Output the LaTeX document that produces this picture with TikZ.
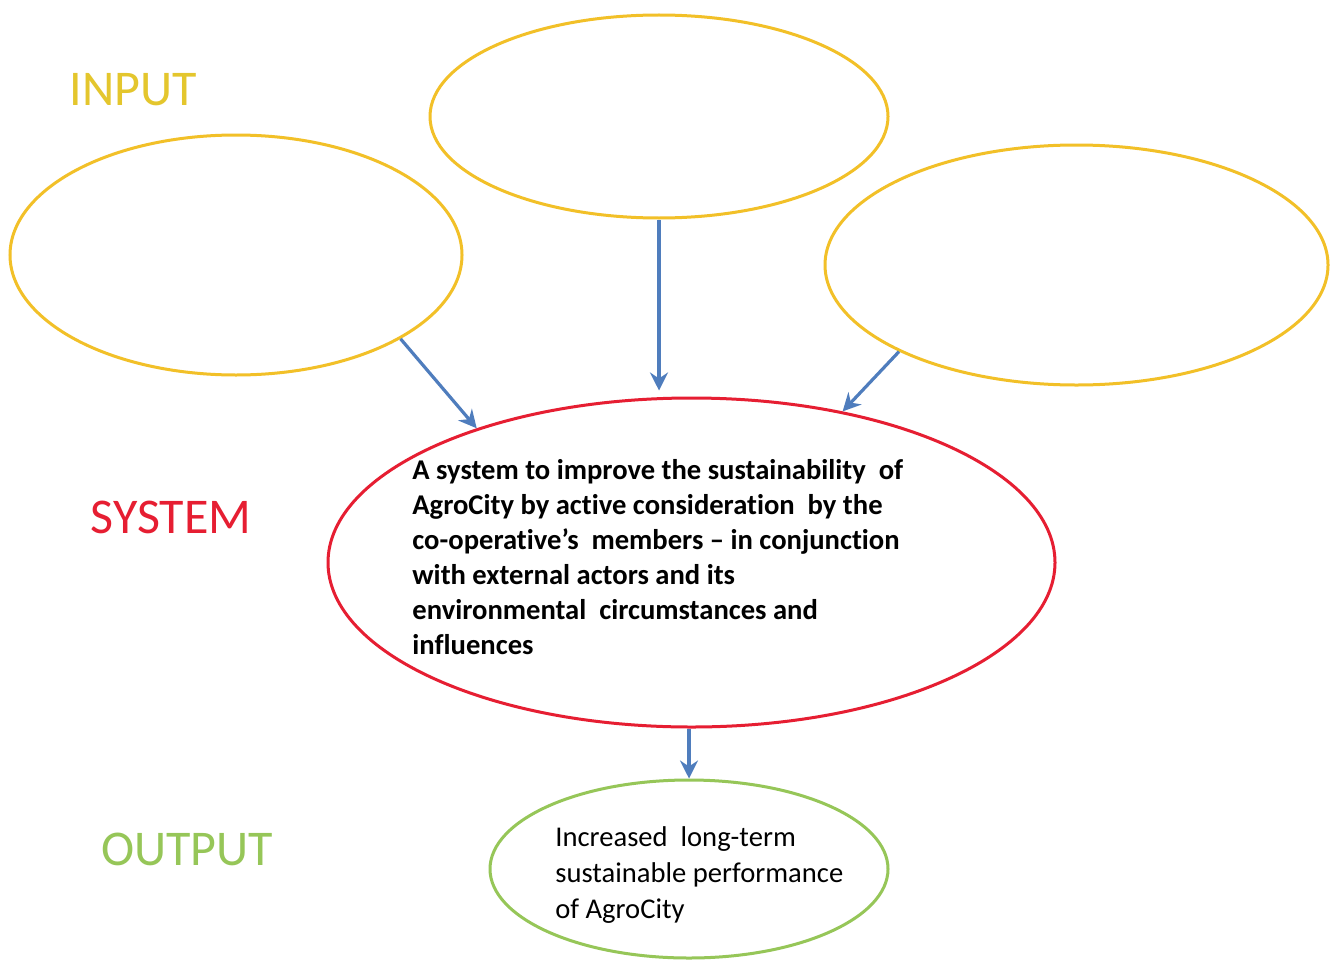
\documentclass[tikz,border=0pt]{standalone}
\usepackage{fontspec}
\setmainfont[Ligatures={NoCommon}]{Carlito}
\usetikzlibrary{shapes.geometric,arrows.meta}
\definecolor{inyel}{RGB}{242,192,40}
\definecolor{intxt}{RGB}{228,198,45}
\definecolor{sysred}{RGB}{230,30,50}
\definecolor{outgrn}{RGB}{150,198,88}
\definecolor{arrblue}{RGB}{79,125,189}
\tikzset{
  oval/.style={ellipse, draw, line width=1.5pt, inner sep=0pt},
  conn/.style={draw=arrblue, line width=1.6pt, -{Stealth[length=9pt,width=9pt,inset=3pt]}},
  biglabel/.style={font=\fontsize{25}{30}\selectfont, inner sep=0pt},
}
\begin{document}
\begin{tikzpicture}[x=0.5pt,y=-0.5pt]
\useasboundingbox (0,0) rectangle (1336,963);
\fill[white] (0,0) rectangle (1336,963);
% input ellipses
\node[oval, draw=inyel, minimum width=229pt, minimum height=101.5pt] (T) at (659,116.5) {};
\node[oval, draw=inyel, minimum width=226pt, minimum height=120pt] (L) at (236,255) {};
\node[oval, draw=inyel, minimum width=251.5pt, minimum height=120pt] (R) at (1076.5,265) {};
% system
\node[oval, draw=sysred, minimum width=363.5pt, minimum height=164.5pt] (S) at (691.5,562.5) {};
\node[align=left, inner sep=0pt, font=\fontsize{14.3}{17.5}\selectfont\bfseries, anchor=base west] (stext) at (412,654)
 {A system to improve the sustainability \ of\\
  AgroCity by active consideration \ by the\\
  co-operative’s \ members -- in conjunction\\
  with external actors and its\\
  environmental \ circumstances and\\
  influences};
% output
\node[oval, draw=outgrn, minimum width=199pt, minimum height=89pt] (O) at (689,869) {};
\node[align=left, inner sep=0pt, font=\fontsize{14.3}{17.8}\selectfont, anchor=base west] (otext) at (555,918)
 {Increased \ long-term\\
  sustainable performance\\
  of AgroCity};
% labels
\node[biglabel, text=intxt] (lin) at (133,90) {INPUT};
\node[biglabel, text=sysred] (lsys) at (171,517) {SYSTEM};
\node[biglabel, text=outgrn] (lout) at (187,849) {OUTPUT};
% connectors
\draw[conn] (L.-27) -- (S.148);
\draw[conn] (T.south) -- ([yshift=3pt]T.south |- S.north);
\draw[conn] (R.-154) -- (S.45);
\draw[conn] (O.north |- S.south) -- (O.north);
\end{tikzpicture}
\end{document}
